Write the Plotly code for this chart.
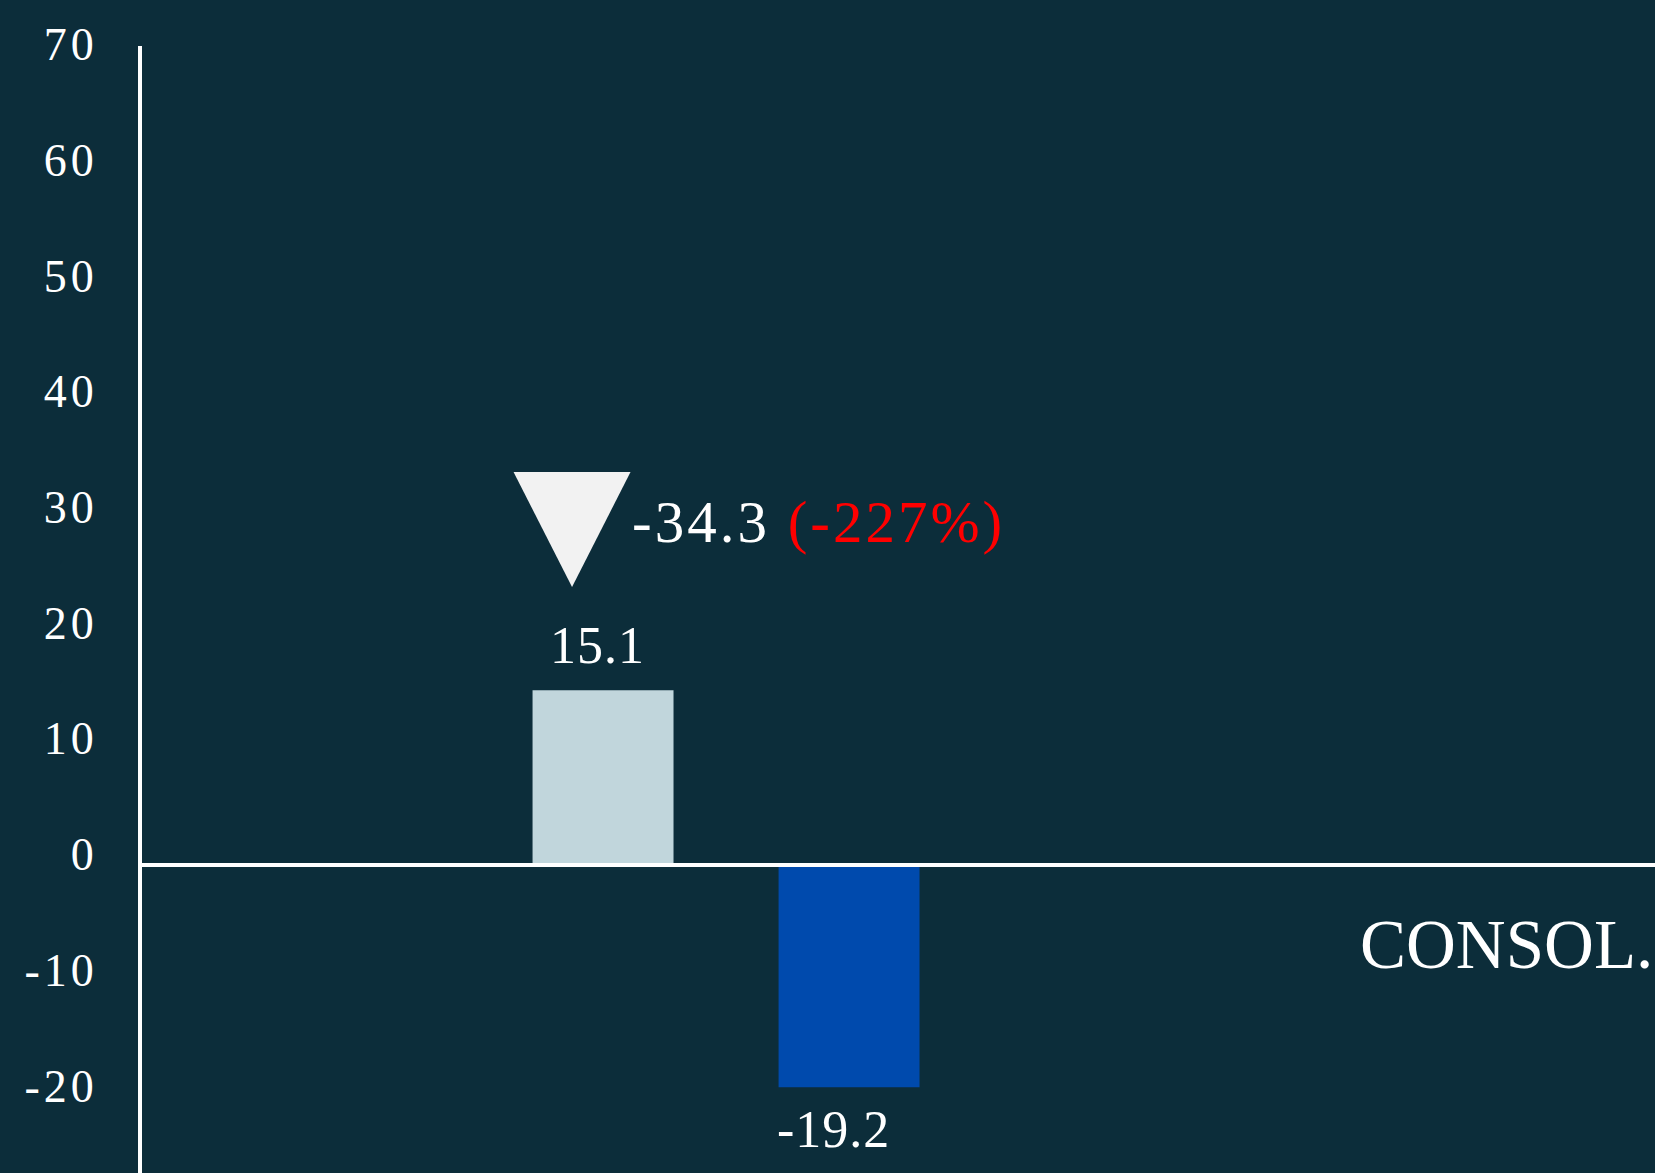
import plotly.graph_objects as go

# ---------------- data ----------------
periods = ["Prior period", "Current period"]
values = [15.1, -19.2]
bar_colors = ["#c1d6dc", "#004aad"]
group_label = "CONSOL."
y_ticks = [-20, -10, 0, 10, 20, 30, 40, 50, 60, 70]

# ---------------- styles ----------------
BG = "#0c2d3a"
FONT = "Liberation Serif"
WHITE = "#ffffff"
RED = "#ff0000"
TRI = "#f2f2f2"

W, H = 1655, 1173
X_RANGE = [-1.874, 4.276]
Y_RANGE = [-26.62, 70.79]
BAR_W = 0.573
MARK_DX = -0.126   # indicator offset from first bar
MARK_Y = 29.0      # indicator height on the axis


def tracked(s, px):
    return f"<span style='letter-spacing:{px}px'>{s}</span>"


delta = values[1] - values[0]
delta_pct = delta / values[0] * 100
x_pos = list(range(len(values)))

fig = go.Figure()
fig.add_trace(go.Bar(
    x=x_pos, y=values, width=BAR_W,
    marker=dict(color=bar_colors, line=dict(width=0)),
    hovertext=periods, hoverinfo="text+y",
))

# downward change indicator (pixel-sized triangle anchored on the axis)
fig.add_shape(
    type="path", xref="x", yref="y", xsizemode="pixel", ysizemode="pixel",
    xanchor=x_pos[0] + MARK_DX, yanchor=MARK_Y,
    path="M-58.5,57.5 L58.5,57.5 L0,-57.5 Z",
    fillcolor=TRI, line=dict(width=0), layer="above",
)

annotations = []
label_shift = [(-6, 14), (-16, -12)]
for xi, v, (dx, dy) in zip(x_pos, values, label_shift):
    annotations.append(dict(
        x=xi, y=v, xref="x", yref="y", text=tracked(f"{v:.1f}", 1), showarrow=False,
        xanchor="center", yanchor="bottom" if v >= 0 else "top",
        xshift=dx, yshift=dy,
        font=dict(family=FONT, size=52, color=WHITE),
    ))
annotations.append(dict(
    x=x_pos[0] + MARK_DX, y=MARK_Y, xref="x", yref="y",
    text=tracked(f"{delta:.1f} ", 3)
    + f"<span style='color:{RED};letter-spacing:3px'>({delta_pct:.0f}%)</span>",
    showarrow=False, xanchor="left", yanchor="middle", xshift=58, yshift=8,
    font=dict(family=FONT, size=59, color=WHITE),
))
annotations.append(dict(
    x=0.8037, y=0.2023, xref="paper", yref="paper", text=group_label,
    showarrow=False, xanchor="left", yanchor="middle",
    font=dict(family=FONT, size=69, color=WHITE),
))

fig.add_shape(type="line", xref="paper", x0=0, x1=1, yref="y", y0=0, y1=0,
              line=dict(color=WHITE, width=4), layer="above")

fig.update_layout(
    width=W, height=H,
    paper_bgcolor=BG, plot_bgcolor=BG,
    margin=dict(l=142, r=0, t=46, b=0, pad=0),
    showlegend=False,
    annotations=annotations,
    xaxis=dict(visible=False, range=X_RANGE),
    yaxis=dict(
        range=Y_RANGE, tickvals=y_ticks, ticktext=[tracked(str(t), 4) for t in y_ticks],
        showgrid=False, zeroline=False, showline=True, linecolor=WHITE, linewidth=4,
        ticks="", ticklabelstandoff=31, ticklabelshift=-11,
        tickfont=dict(family=FONT, size=46, color=WHITE),
    ),
)

fig.write_html(
    "out.html",
    config={"displayModeBar": False},
    post_script="document.body.style.margin='0';document.body.style.overflow='hidden';",
)
